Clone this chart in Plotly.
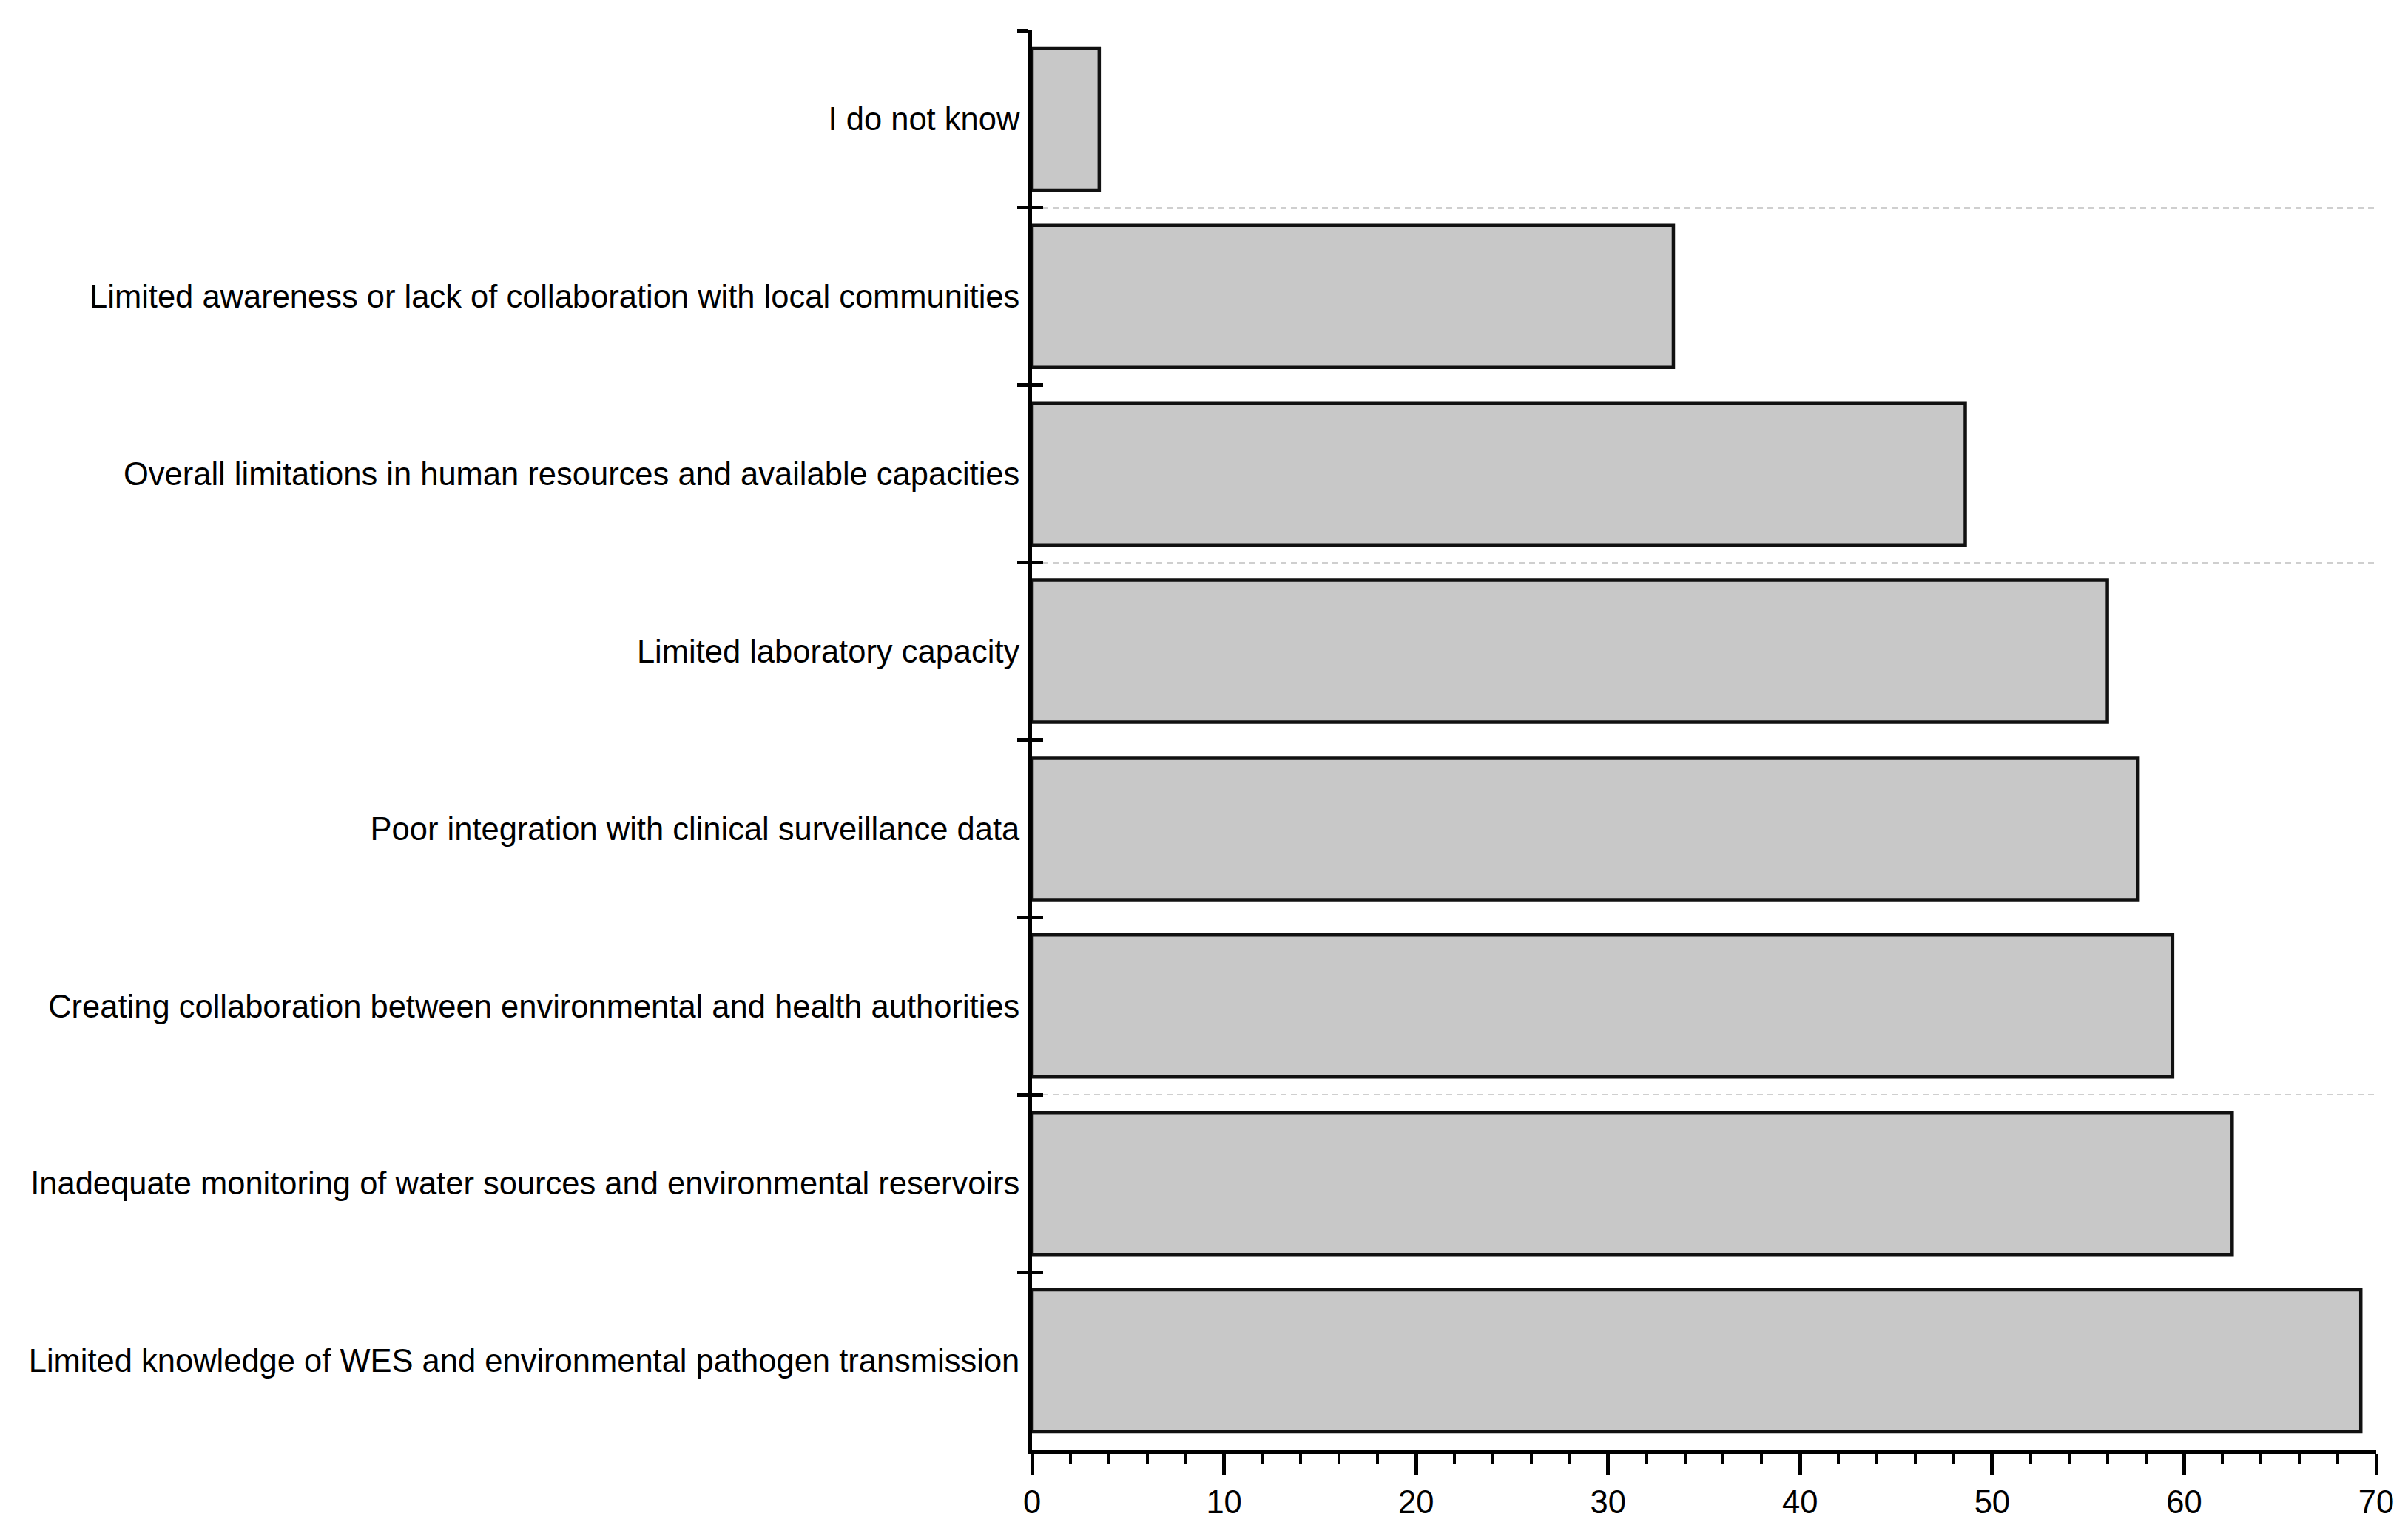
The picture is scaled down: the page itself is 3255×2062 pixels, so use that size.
import plotly.graph_objects as go

categories = [
    "I do not know",
    "Limited awareness or lack of collaboration with local communities",
    "Overall limitations in human resources and available capacities",
    "Limited laboratory capacity",
    "Poor integration with clinical surveillance data",
    "Creating collaboration between environmental and health authorities",
    "Inadequate monitoring of water sources and environmental reservoirs",
    "Limited knowledge of WES and environmental pathogen transmission",
]
values = [3.5, 33.4, 48.6, 56.0, 57.6, 59.4, 62.5, 69.2]
x_ticks = [0, 10, 20, 30, 40, 50, 60, 70]
grid_boundaries = [0.5, 2.5, 5.5]

n = len(categories)
boundaries = [i - 0.5 for i in range(n + 1)]
yrange = [n - 0.5, -0.5]

FONT = "Liberation Sans, Arial, sans-serif"

fig = go.Figure()
fig.add_trace(go.Bar(
    x=values, y=categories, orientation="h",
    marker=dict(color="#c8c8c8", line=dict(color="#111111", width=4.5)),
    width=0.8, showlegend=False, hoverinfo="x+y",
))
# helper traces so overlay axes render
fig.add_trace(go.Scatter(x=[None], y=[None], yaxis="y2", showlegend=False, hoverinfo="skip"))
fig.add_trace(go.Scatter(x=[None], y=[None], yaxis="y3", showlegend=False, hoverinfo="skip"))

fig.update_layout(
    width=3255, height=2062,
    margin=dict(l=1387, r=51, t=33, b=110, autoexpand=False),
    paper_bgcolor="white", plot_bgcolor="white",
    font=dict(family=FONT, size=43.5, color="black"),
    xaxis=dict(
        range=[0, 70], tickvals=x_ticks, ticks="outside", ticklen=28, tickwidth=5,
        tickcolor="black", showline=True, linewidth=6, linecolor="black",
        showgrid=False, zeroline=False, tickfont=dict(size=43.5),
        minor=dict(dtick=2, ticks="outside", ticklen=14, tickwidth=4, tickcolor="black", showgrid=False),
        fixedrange=True,
    ),
    yaxis=dict(
        type="category", categoryorder="array", categoryarray=categories,
        range=yrange, tickson="boundaries", ticks="outside", ticklen=15, tickwidth=5,
        tickcolor="black", showline=True, linewidth=5, linecolor="black",
        showgrid=False, zeroline=False, tickfont=dict(size=43.5),
        ticklabelstandoff=3, fixedrange=True,
    ),
    yaxis2=dict(
        overlaying="y", range=yrange, tickvals=grid_boundaries, showticklabels=False,
        ticks="", showgrid=True, gridcolor="#cfcfcf", gridwidth=2, griddash="8px,6px",
        showline=False, zeroline=False, fixedrange=True,
    ),
    yaxis3=dict(
        overlaying="y", range=yrange, tickvals=boundaries, showticklabels=False,
        ticks="inside", ticklen=15, tickwidth=5, tickcolor="black",
        showgrid=False, showline=False, zeroline=False, fixedrange=True,
    ),
    bargap=0.2,
)

fig.write_html("out.html")
